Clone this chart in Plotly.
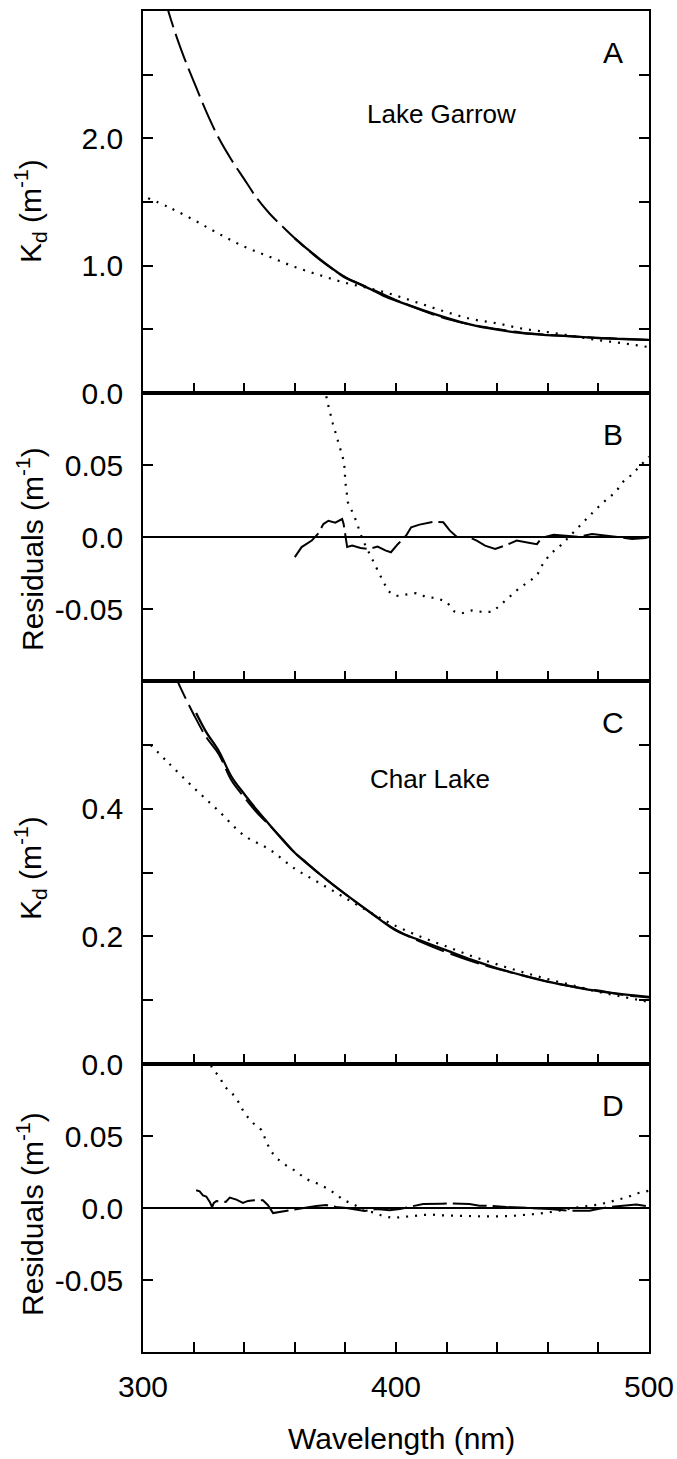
import plotly.graph_objects as go

# ---------------- data ----------------
# Panel A: Lake Garrow, Kd (m^-1)
garrow_meas_wl = [360, 365, 370, 375, 380, 385, 390, 395, 400, 410, 420, 430, 440, 450, 460, 470, 480, 490, 500]
garrow_meas_kd = [1.215, 1.13, 1.05, 0.975, 0.905, 0.86, 0.815, 0.765, 0.725, 0.655, 0.59, 0.535, 0.497, 0.47,
                  0.455, 0.444, 0.432, 0.424, 0.417]

garrow_fit1_wl = [305, 310, 315, 320, 325, 330, 335, 340, 345, 350, 355, 360, 370, 380, 390, 400, 410, 420, 430,
                  440, 450, 460, 470, 480, 490, 500]
garrow_fit1_kd = [3.38, 3.0, 2.70, 2.45, 2.21, 2.0, 1.83, 1.68, 1.53, 1.41, 1.31, 1.215, 1.045, 0.91, 0.82, 0.73,
                  0.652, 0.583, 0.536, 0.502, 0.474, 0.457, 0.444, 0.432, 0.424, 0.417]

garrow_fit2_wl = [302, 310, 320, 330, 340, 350, 360, 370, 380, 390, 400, 410, 420, 430, 440, 450, 460, 470, 480,
                  490, 500]
garrow_fit2_kd = [1.53, 1.46, 1.36, 1.25, 1.15, 1.07, 0.99, 0.925, 0.865, 0.82, 0.765, 0.70, 0.635, 0.58, 0.547,
                  0.505, 0.478, 0.447, 0.415, 0.39, 0.36]

# Panel B: Lake Garrow residuals (m^-1)
res_garrow_fit1_wl = [360, 362.7, 366.7, 369.3, 371.3, 373.3, 376, 378.7, 379.3, 380, 380.7, 382.7, 386, 389.3,
                      392.7, 396, 398, 400.7, 404, 406, 409.3, 414.7, 418.7, 421.3, 424, 428.6, 431.9, 435.2,
                      439.2, 443, 447.7, 452.4, 455.7, 457.6, 462.3, 472, 477.5, 486.7, 493.3, 498.6, 500]
res_garrow_fit1 = [-0.014, -0.007, -0.0025, 0.0025, 0.009, 0.0113, 0.010, 0.0125, 0.009, 0.0, -0.007, -0.006,
                   -0.0076, -0.0083, -0.0067, -0.0095, -0.0106, -0.005, 0.001, 0.0067, 0.0086, 0.0106, 0.0102,
                   0.0044, 0.0002, 0.0, -0.0025, -0.006, -0.0083, -0.006, -0.0025, -0.004, -0.005, -0.0005,
                   0.0016, 0.0002, 0.002, 0.0002, -0.0014, -0.0007, 0.0]

res_garrow_fit2_wl = [371, 373, 375, 377, 378.4, 379.5, 379.7, 380, 380.5, 381, 382.7, 384.4, 385.6, 387, 389,
                      391, 393, 395, 397, 400, 404, 408, 412, 416, 420, 423, 426, 430, 434, 438, 441, 445, 449,
                      453, 456, 458, 461, 465, 472, 475.5, 479, 483, 487, 489.5, 493, 500]
res_garrow_fit2 = [0.11, 0.093, 0.079, 0.066, 0.0586, 0.0519, 0.045, 0.038, 0.031, 0.024, 0.0176, 0.0106, 0.004,
                   -0.0025, -0.0097, -0.0164, -0.024, -0.031, -0.0377, -0.041, -0.040, -0.039, -0.0417, -0.0424,
                   -0.045, -0.0516, -0.053, -0.051, -0.052, -0.052, -0.0477, -0.041, -0.035, -0.0306, -0.0257,
                   -0.0188, -0.0118, -0.006, 0.0067, 0.0132, 0.0192, 0.0257, 0.0315, 0.038, 0.043, 0.0558]

# Panel C: Char Lake, Kd (m^-1)
char_meas_wl = [321, 325, 330, 335, 340, 345, 350, 355, 360, 365, 370, 380, 390, 400, 410, 420, 430, 440, 450,
                460, 470, 480, 490, 500]
char_meas_kd = [0.55, 0.52, 0.49, 0.45, 0.423, 0.398, 0.375, 0.352, 0.331, 0.314, 0.297, 0.266, 0.237, 0.209,
                0.193, 0.178, 0.163, 0.150, 0.139, 0.129, 0.121, 0.114, 0.109, 0.105]

char_fit1_wl = [312, 315, 320, 325, 330, 335, 340, 345, 350, 355, 360, 370, 380, 390, 400, 410, 420, 430, 440,
                450, 460, 470, 480, 490, 500]
char_fit1_kd = [0.615, 0.588, 0.548, 0.512, 0.485, 0.444, 0.418, 0.394, 0.374, 0.353, 0.331, 0.297, 0.266, 0.237,
                0.210, 0.191, 0.175, 0.161, 0.149, 0.139, 0.129, 0.121, 0.115, 0.108, 0.104]

char_fit2_wl = [303, 310, 320, 330, 340, 350, 360, 370, 380, 390, 400, 410, 420, 430, 440, 450, 460, 470, 480,
                490, 500]
char_fit2_kd = [0.50, 0.472, 0.433, 0.396, 0.358, 0.336, 0.306, 0.283, 0.260, 0.237, 0.216, 0.199, 0.184, 0.169,
                0.156, 0.144, 0.133, 0.123, 0.113, 0.105, 0.097]

# Panel D: Char Lake residuals (m^-1)
res_char_fit1_wl = [321, 322.4, 323.7, 325, 326.4, 327.3, 328, 329, 332.7, 334.3, 336.9, 339.5, 341.5, 343.9,
                    347.4, 349.4, 351.4, 354, 358, 364.6, 368.5, 372.5, 376.4, 380.4, 384.3, 387.6, 392.2, 397.5,
                    401.5, 406.8, 410.7, 418, 422, 429, 433, 437, 443.6, 452.8, 460.7, 467.9, 476.5, 479.8, 484.4,
                    489.7, 495, 500]
res_char_fit1 = [0.0123, 0.0116, 0.0088, 0.008, 0.0042, 0.0007, 0.0035, 0.0049, 0.0042, 0.0072, 0.0058, 0.0035,
                 0.0049, 0.0053, 0.0053, 0.0019, -0.0035, -0.0028, -0.0012, 0.0002, 0.0014, 0.002, 0.0007, 0.0,
                 -0.0009, -0.002, -0.0007, -0.0016, -0.0007, 0.0016, 0.0028, 0.003, 0.0032, 0.0028, 0.0016,
                 0.0016, 0.0007, 0.0, -0.0007, -0.0019, -0.0019, -0.0007, 0.0007, 0.0016, 0.0025, 0.001]

res_char_fit2_wl = [326, 327.3, 330.3, 332.1, 335.3, 338, 340, 343, 346.8, 348.7, 350.3, 353, 356.7, 360.5, 364.4,
                    368.2, 372.2, 376, 379.4, 383.1, 387, 390.9, 394.9, 398.7, 402.6, 406.5, 410.3, 414.1, 418,
                    422, 425.8, 429.7, 433.5, 437.4, 441.2, 445.1, 449, 452.9, 456.7, 460.6, 464.5, 468.3, 472,
                    476, 479.9, 483.8, 487.8, 491.6, 495.4, 500]
res_char_fit2 = [0.105, 0.0968, 0.091, 0.0845, 0.0796, 0.0729, 0.066, 0.0597, 0.0542, 0.047, 0.040, 0.0343,
                 0.0294, 0.0255, 0.0201, 0.0176, 0.0141, 0.010, 0.0053, 0.0028, -0.0016, -0.003, -0.0056, -0.0069,
                 -0.0065, -0.0056, -0.0049, -0.0046, -0.0051, -0.0051, -0.0056, -0.0056, -0.0058, -0.006,
                 -0.0058, -0.0056, -0.0051, -0.0049, -0.0039, -0.003, -0.002, -0.0007, 0.0005, 0.0013, 0.0023,
                 0.0039, 0.0056, 0.0076, 0.0102, 0.012]

# axis ticks / labels
x_tickvals = [300, 400, 500]
x_ticktext = ["300", "400", "500"]
x_minor_vals = [320, 340, 360, 380, 420, 440, 460, 480]
kdA_tickvals = [0, 1.0, 2.0]
kdA_ticktext = ["0.0", "1.0", "2.0"]
kdA_minor_vals = [0.5, 1.5, 2.5]
kdC_tickvals = [0, 0.2, 0.4]
kdC_ticktext = ["0.0", "0.2", "0.4"]
kdC_minor_vals = [0.1, 0.3, 0.5]
res_tickvals = [-0.05, 0.0, 0.05]
res_ticktext = ["-0.05", "0.0", "0.05"]
panel_letters = ["A", "B", "C", "D"]
lake_names = ["Lake Garrow", "Char Lake"]

# ---------------- figure ----------------
FONT = "Liberation Sans, Arial, Helvetica, sans-serif"
W, H = 677, 1459
ML, MR, MT, MB = 143, 28, 11, 107
PLOT_H = H - MT - MB
PLOT_W = W - ML - MR


def py(px):
    """figure pixel row -> paper y"""
    return (H - MB - px) / PLOT_H


def px_x(px):
    return (px - ML) / PLOT_W


panel_px = [(11, 393), (393, 681), (681, 1064), (1064, 1352)]
domains = [[py(b), py(t)] for (t, b) in panel_px]
domains[0][1] = 1.0
domains[3][0] = 0.0

SOLID = dict(color="black", width=2.3)
DASH = dict(color="black", width=2.0, dash="30px,7px")
RESDASH = dict(color="black", width=2.0, dash="34px,6px")
DOT = dict(color="black", width=2.2, dash="2px,7px")

fig = go.Figure()

# Panel A
fig.add_trace(go.Scatter(x=garrow_fit2_wl, y=garrow_fit2_kd, mode="lines", line=DOT, line_shape="spline",
                         xaxis="x", yaxis="y", showlegend=False))
fig.add_trace(go.Scatter(x=garrow_fit1_wl, y=garrow_fit1_kd, mode="lines", line=DASH, line_shape="spline",
                         xaxis="x", yaxis="y", showlegend=False))
fig.add_trace(go.Scatter(x=garrow_meas_wl, y=garrow_meas_kd, mode="lines", line=SOLID, line_shape="spline",
                         xaxis="x", yaxis="y", showlegend=False))
# Panel B
fig.add_trace(go.Scatter(x=res_garrow_fit2_wl, y=res_garrow_fit2, mode="lines", line=DOT,
                         xaxis="x2", yaxis="y2", showlegend=False))
fig.add_trace(go.Scatter(x=res_garrow_fit1_wl, y=res_garrow_fit1, mode="lines", line=RESDASH,
                         xaxis="x2", yaxis="y2", showlegend=False))
# Panel C
fig.add_trace(go.Scatter(x=char_fit2_wl, y=char_fit2_kd, mode="lines", line=DOT, line_shape="spline",
                         xaxis="x3", yaxis="y3", showlegend=False))
fig.add_trace(go.Scatter(x=char_fit1_wl, y=char_fit1_kd, mode="lines", line=DASH, line_shape="spline",
                         xaxis="x3", yaxis="y3", showlegend=False))
fig.add_trace(go.Scatter(x=char_meas_wl, y=char_meas_kd, mode="lines", line=SOLID, line_shape="spline",
                         xaxis="x3", yaxis="y3", showlegend=False))
# Panel D
fig.add_trace(go.Scatter(x=res_char_fit2_wl, y=res_char_fit2, mode="lines", line=DOT,
                         xaxis="x4", yaxis="y4", showlegend=False))
fig.add_trace(go.Scatter(x=res_char_fit1_wl, y=res_char_fit1, mode="lines", line=RESDASH,
                         xaxis="x4", yaxis="y4", showlegend=False))

tickfont = dict(family=FONT, size=30, color="black")
axis_common = dict(showgrid=False, showline=True, linecolor="black", linewidth=1.6, automargin=False,
                   ticks="inside", ticklen=10, tickwidth=1.5, tickcolor="black", tickfont=tickfont)
minor_common = dict(ticks="inside", ticklen=10, tickwidth=1.5, tickcolor="black", showgrid=False)

yranges = [[0, 3.0], [-0.1, 0.1], [0, 0.6], [-0.1, 0.1]]
yticks = [(kdA_tickvals, kdA_ticktext, kdA_minor_vals), (res_tickvals, res_ticktext, []),
          (kdC_tickvals, kdC_ticktext, kdC_minor_vals), (res_tickvals, res_ticktext, [])]

layout = dict(width=W, height=H, margin=dict(l=ML, r=MR, t=MT, b=MB, autoexpand=False),
              paper_bgcolor="white", plot_bgcolor="white", showlegend=False,
              font=dict(family=FONT, color="black"))

for i in range(4):
    sfx = "" if i == 0 else str(i + 1)
    layout["xaxis" + sfx] = dict(axis_common, range=[300, 500], tickmode="array", tickvals=x_tickvals,
                                 ticktext=x_ticktext, showticklabels=(i == 3), mirror=True,
                                 minor=dict(minor_common, tickmode="array", tickvals=x_minor_vals),
                                 zeroline=False, anchor="y" + sfx, domain=[0, 1],
                                 ticklabelstandoff=7)
    is_res = i in (1, 3)
    yax = dict(axis_common, range=yranges[i], tickmode="array", tickvals=yticks[i][0],
               ticktext=yticks[i][1], mirror="ticks", anchor="x" + sfx,
               domain=domains[i], zeroline=is_res, zerolinecolor="black",
               zerolinewidth=1.8, ticklabelstandoff=12)
    if yticks[i][2]:
        yax["minor"] = dict(minor_common, tickmode="array", tickvals=yticks[i][2])
    layout["yaxis" + sfx] = yax

annotations = []
# y-axis titles
title_centers = [211, 549, 868, 1214]
titles = ["K<sub>d</sub> (m<sup>-1</sup>)", "Residuals (m<sup>-1</sup>)",
          "K<sub>d</sub> (m<sup>-1</sup>)", "Residuals (m<sup>-1</sup>)"]
for tc, tt in zip(title_centers, titles):
    annotations.append(dict(text=tt, xref="paper", yref="paper", x=px_x(30), y=py(tc),
                            xanchor="center", yanchor="middle", textangle=-90, showarrow=False,
                            font=dict(family=FONT, size=30, color="black")))
# x-axis title
annotations.append(dict(text="Wavelength (nm)", xref="paper", yref="paper", x=px_x(401), y=py(1438),
                        xanchor="center", yanchor="middle", showarrow=False,
                        font=dict(family=FONT, size=30, color="black")))
# panel letters
for (t, b), letter in zip(panel_px, panel_letters):
    annotations.append(dict(text=letter, xref="paper", yref="paper", x=px_x(613), y=py(t + 41),
                            xanchor="center", yanchor="middle", showarrow=False,
                            font=dict(family=FONT, size=30, color="black")))
# lake names
annotations.append(dict(text=lake_names[0], xref="paper", yref="paper", x=px_x(441), y=py(114),
                        xanchor="center", yanchor="middle", showarrow=False,
                        font=dict(family=FONT, size=26, color="black")))
annotations.append(dict(text=lake_names[1], xref="paper", yref="paper", x=px_x(430), y=py(779),
                        xanchor="center", yanchor="middle", showarrow=False,
                        font=dict(family=FONT, size=26, color="black")))
layout["annotations"] = annotations

fig.update_layout(**layout)
fig.write_html("out.html", config={"displayModeBar": False},
               post_script="document.body.style.margin='0';document.body.style.padding='0';"
                           "document.documentElement.style.overflow='hidden';")
